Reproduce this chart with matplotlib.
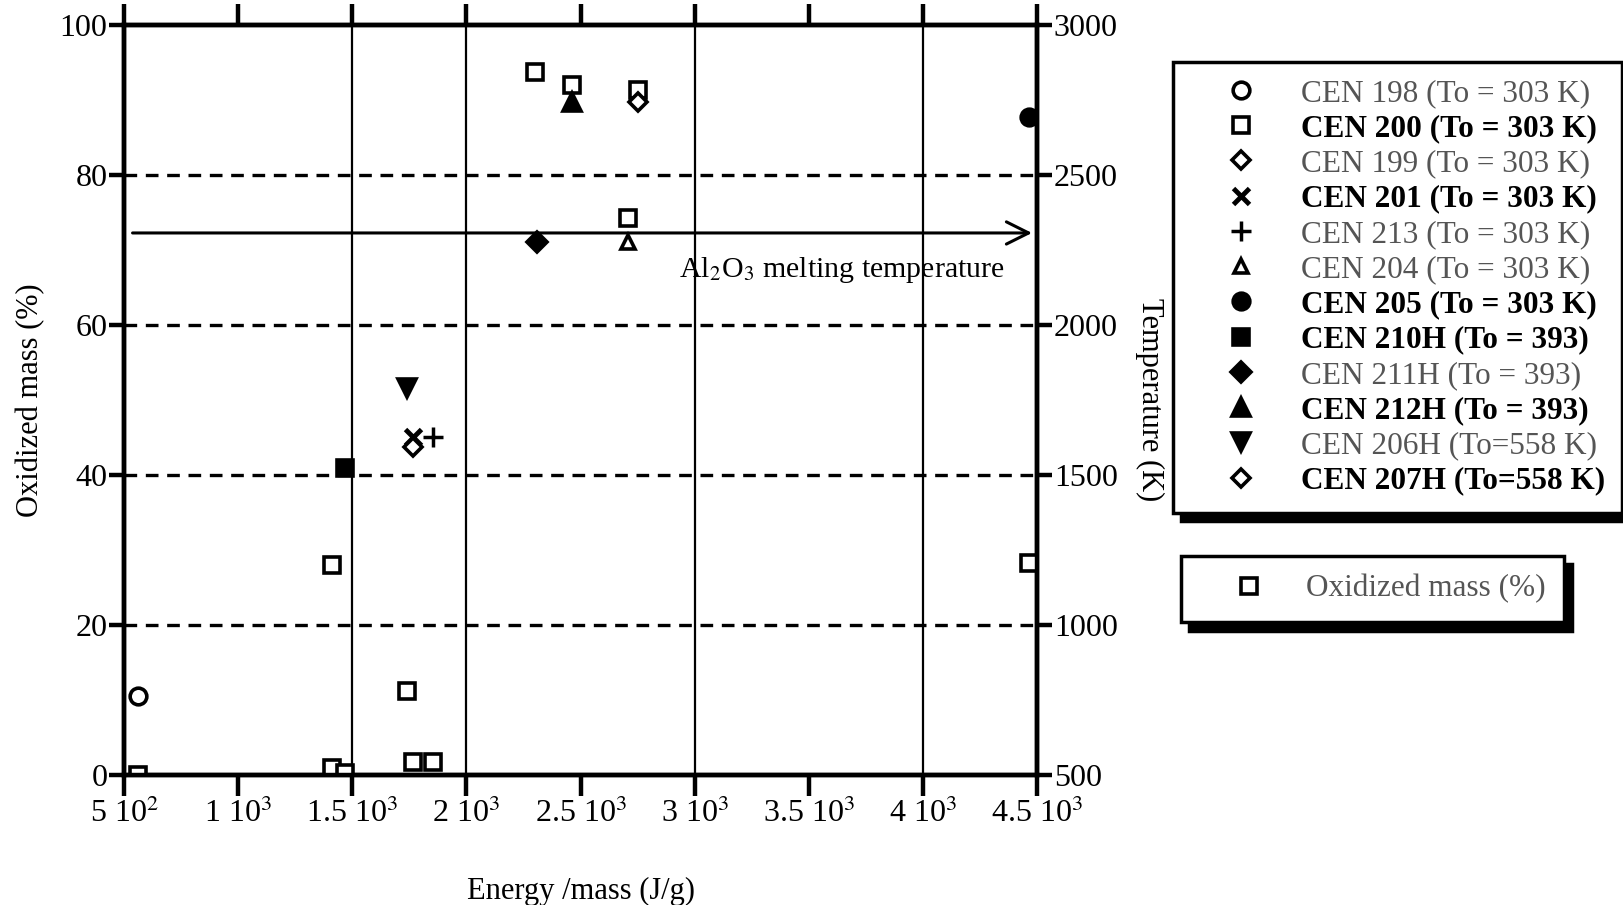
import matplotlib
matplotlib.use("Agg")
import matplotlib.pyplot as plt
from matplotlib.lines import Line2D

plt.rcParams["font.family"] = ["Liberation Serif", "DejaVu Serif"]
plt.rcParams["mathtext.fontset"] = "stix"

# ---------------------------
# Data
# ---------------------------
# oxidized mass (%) of each test, left axis
ox_energy = [559, 1411, 1468, 1740, 1766, 1854, 2301, 2463, 2708, 2752, 4464]
ox_mass = [0, 0.9, 0.3, 11.2, 1.7, 1.7, 93.7, 92.0, 74.3, 91.3, 28.3]

# max temperature (K) of each test, right axis
tests = ["CEN 198 (To = 303 K)", "CEN 200 (To = 303 K)", "CEN 199 (To = 303 K)",
         "CEN 201 (To = 303 K)", "CEN 213 (To = 303 K)", "CEN 204 (To = 303 K)",
         "CEN 205 (To = 303 K)", "CEN 210H (To = 393)", "CEN 211H (To = 393)",
         "CEN 212H (To = 393)", "CEN 206H (To=558 K)", "CEN 207H (To=558 K)"]
test_energy = [559, 1411, 2752, 1766, 1854, 2708, 4464, 1468, 2309, 2463, 1740, 1766]
test_temp = [762, 1200, 2743, 1628, 1628, 2278, 2693, 1523, 2278, 2743, 1790, 1593]
faded = [True, False, True, False, True, True, False, False, True, False, True, False]

melting_temp = 2307

x_ticks = [500, 1000, 1500, 2000, 2500, 3000, 3500, 4000, 4500]
x_ticklabels = ["5 10$^2$", "1 10$^3$", "1.5 10$^3$", "2 10$^3$", "2.5 10$^3$",
                "3 10$^3$", "3.5 10$^3$", "4 10$^3$", "4.5 10$^3$"]
vgrid = [1500, 2000, 3000, 4000]
hgrid = [20, 40, 60, 80]

# marker styles per test
styles = [
    dict(marker="o", mfc="white"),
    dict(marker="s", mfc="white"),
    dict(marker="D", mfc="white", ms=9),
    dict(marker="x", mew=3.5),
    dict(marker="+", mew=2.5, ms=14),
    dict(marker="^", mfc="white", ms=10),
    dict(marker="o", mfc="black"),
    dict(marker="s", mfc="black"),
    dict(marker="D", mfc="black", ms=10),
    dict(marker="^", mfc="black", ms=13),
    dict(marker="v", mfc="black", ms=13),
    dict(marker="D", mfc="white", ms=9),
]

# ---------------------------
# Plot
# ---------------------------
fig = plt.figure(figsize=(16.24, 9.05), dpi=100)
ax = fig.add_axes([0.0764, 0.1436, 0.5622, 0.8287])
ax2 = ax.twinx()

ax.set_xlim(500, 4500)
ax.set_ylim(0, 100)
ax2.set_ylim(500, 3000)

for x in vgrid:
    ax.axvline(x, color="black", lw=1.6, zorder=1)
for y in hgrid:
    ax.axhline(y, color="black", lw=2.4, ls=(0, (3.8, 2.6)), zorder=1)

ax.plot(ox_energy, ox_mass, ls="none", marker="s", ms=12, mfc="white",
        mec="black", mew=2.6, zorder=3)

for xe, t, st in zip(test_energy, test_temp, styles):
    kw = dict(ms=12, mec="black", color="black", mew=2.6)
    kw.update(st)
    ax2.plot([xe], [t], ls="none", zorder=3, **kw)

ax2.annotate("", xy=(4490, melting_temp), xytext=(525, melting_temp),
             arrowprops=dict(arrowstyle="->", lw=2.2, mutation_scale=40, color="black"))
ax2.text(2930, 2185, "Al$_2$O$_3$ melting temperature", fontsize=21.5,
         ha="left", va="center")

# axes look
for a in (ax, ax2):
    for s in a.spines.values():
        s.set_linewidth(3.2)
ax.set_xticks(x_ticks)
ax.set_xticklabels(x_ticklabels, fontsize=23)
ax.set_yticks([0, 20, 40, 60, 80, 100])
ax.tick_params(axis="x", direction="out", length=15, width=3.2, pad=2,
               top=True, labeltop=False)
ax.tick_params(axis="y", direction="out", length=11, width=3.2, pad=1, labelsize=23)
ax2.set_yticks([500, 1000, 1500, 2000, 2500, 3000])
ax2.tick_params(axis="y", direction="out", length=11, width=3.2, pad=1, labelsize=23)

ax.set_xlabel("Energy /mass (J/g)", fontsize=22, labelpad=34)
ax.set_ylabel("Oxidized mass (%)", fontsize=22, labelpad=10)
ax2.set_ylabel("Temperature (K)", fontsize=22, rotation=270, labelpad=33)

# legend of tests
handles = []
for st in styles:
    kw = dict(ms=12, mec="black", color="black", mew=2.6)
    kw.update(st)
    handles.append(Line2D([], [], ls="none", **kw))
leg = fig.legend(handles, tests, loc="upper left", bbox_to_anchor=(0.722, 0.932),
                 fontsize=22.5, frameon=True, fancybox=False, edgecolor="black",
                 borderpad=0.55, labelspacing=0.2, handlelength=3.3, handletextpad=0.25,
                 borderaxespad=0, shadow={"ox": 6, "oy": -6, "color": "black", "alpha": 1})
leg.get_frame().set_linewidth(2.5)
for txt, f in zip(leg.get_texts(), faded):
    if f:
        txt.set_color("#555555")
    else:
        txt.set_fontweight("bold")

# legend of oxidized mass
h2 = Line2D([], [], ls="none", marker="s", ms=12, mfc="white", mec="black", mew=2.6)
leg2 = fig.legend([h2], ["Oxidized mass (%)"], loc="upper left",
                  bbox_to_anchor=(0.727, 0.386), fontsize=22.5, frameon=True,
                  fancybox=False, edgecolor="black", borderpad=0.6,
                  handlelength=3.2, handletextpad=0.2, borderaxespad=0,
                  shadow={"ox": 6, "oy": -6, "color": "black", "alpha": 1})
leg2.get_frame().set_linewidth(2.5)
leg2.get_texts()[0].set_color("#555555")

fig.savefig("out.png", dpi=100)
